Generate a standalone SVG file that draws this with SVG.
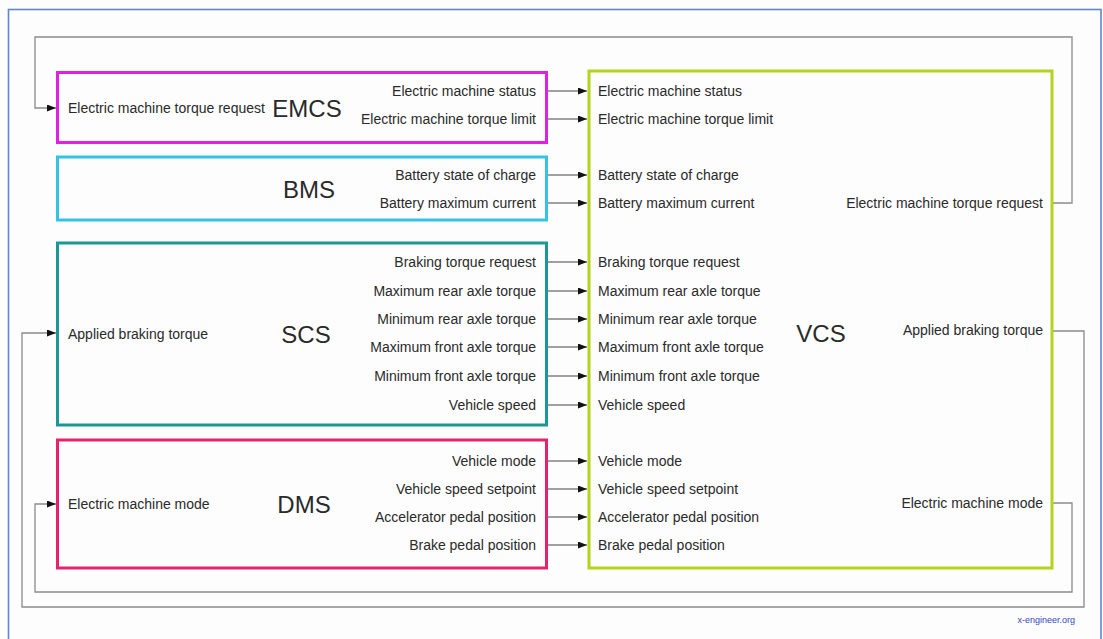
<svg xmlns="http://www.w3.org/2000/svg" width="1103" height="639" viewBox="0 0 1103 639">
<style>
text{font-family:"Liberation Sans",Arial,sans-serif;fill:#2a2a2a}
.s{font-size:14px}
.b{font-size:24px;text-anchor:middle}
.e{text-anchor:end}
.box{fill:none;stroke-width:3}
.sig{fill:none;stroke:#444;stroke-width:1.2}
.fb{fill:none;stroke:#8a8a8a;stroke-width:1.3}
</style>
<defs>
<marker id="ah" markerUnits="userSpaceOnUse" markerWidth="10" markerHeight="8" refX="9" refY="3.5" orient="auto">
<path d="M0,0 L9,3.5 L0,7 z" fill="#111"/>
</marker>
</defs>
<rect width="1103" height="639" fill="#fdfdfd"/>
<rect x="8.5" y="9.5" width="1092.5" height="645" fill="none" stroke="#5e88d2" stroke-width="1.6"/>

<g id="connectors">
<path class="sig" marker-end="url(#ah)" d="M548,91 H587"/>
<path class="sig" marker-end="url(#ah)" d="M548,119 H587"/>
<path class="sig" marker-end="url(#ah)" d="M548,175 H587"/>
<path class="sig" marker-end="url(#ah)" d="M548,203 H587"/>
<path class="sig" marker-end="url(#ah)" d="M548,262 H587"/>
<path class="sig" marker-end="url(#ah)" d="M548,291 H587"/>
<path class="sig" marker-end="url(#ah)" d="M548,319 H587"/>
<path class="sig" marker-end="url(#ah)" d="M548,347 H587"/>
<path class="sig" marker-end="url(#ah)" d="M548,376 H587"/>
<path class="sig" marker-end="url(#ah)" d="M548,405 H587"/>
<path class="sig" marker-end="url(#ah)" d="M548,461 H587"/>
<path class="sig" marker-end="url(#ah)" d="M548,489 H587"/>
<path class="sig" marker-end="url(#ah)" d="M548,517 H587"/>
<path class="sig" marker-end="url(#ah)" d="M548,545 H587"/>
<path class="fb" marker-end="url(#ah)" d="M1052,203 H1072 V37 H35 V108 H56"/>
<path class="fb" marker-end="url(#ah)" d="M1052,331 H1084 V607 H22 V333 H56"/>
<path class="fb" marker-end="url(#ah)" d="M1052,503 H1072 V592 H35 V504 H56"/>
</g>

<g id="EMCS">
<rect class="box" x="57.5" y="72.5" width="489" height="70" stroke="#e022e0"/>
<text class="s" x="68" y="113">Electric machine torque request</text>
<text class="b" x="307" y="117">EMCS</text>
<text class="s e" x="536" y="96">Electric machine status</text>
<text class="s e" x="536" y="124">Electric machine torque limit</text>
</g>

<g id="BMS">
<rect class="box" x="57.5" y="157" width="489" height="63" stroke="#34c2e6"/>
<text class="b" x="309" y="198">BMS</text>
<text class="s e" x="536" y="180">Battery state of charge</text>
<text class="s e" x="536" y="208">Battery maximum current</text>
</g>

<g id="SCS">
<rect class="box" x="57.5" y="243" width="489" height="182" stroke="#1b9896"/>
<text class="s" x="68" y="339">Applied braking torque</text>
<text class="b" x="306" y="343">SCS</text>
<text class="s e" x="536" y="267">Braking torque request</text>
<text class="s e" x="536" y="296">Maximum rear axle torque</text>
<text class="s e" x="536" y="324">Minimum rear axle torque</text>
<text class="s e" x="536" y="352">Maximum front axle torque</text>
<text class="s e" x="536" y="381">Minimum front axle torque</text>
<text class="s e" x="536" y="410">Vehicle speed</text>
</g>

<g id="DMS">
<rect class="box" x="57.5" y="440" width="489" height="128" stroke="#e8216b"/>
<text class="s" x="68" y="509">Electric machine mode</text>
<text class="b" x="304" y="513">DMS</text>
<text class="s e" x="536" y="466">Vehicle mode</text>
<text class="s e" x="536" y="494">Vehicle speed setpoint</text>
<text class="s e" x="536" y="522">Accelerator pedal position</text>
<text class="s e" x="536" y="550">Brake pedal position</text>
</g>

<g id="VCS">
<rect class="box" x="589" y="71" width="463" height="497" stroke="#b3d31d"/>
<text class="b" x="821" y="342">VCS</text>
<text class="s" x="598" y="96">Electric machine status</text>
<text class="s" x="598" y="124">Electric machine torque limit</text>
<text class="s" x="598" y="180">Battery state of charge</text>
<text class="s" x="598" y="208">Battery maximum current</text>
<text class="s" x="598" y="267">Braking torque request</text>
<text class="s" x="598" y="296">Maximum rear axle torque</text>
<text class="s" x="598" y="324">Minimum rear axle torque</text>
<text class="s" x="598" y="352">Maximum front axle torque</text>
<text class="s" x="598" y="381">Minimum front axle torque</text>
<text class="s" x="598" y="410">Vehicle speed</text>
<text class="s" x="598" y="466">Vehicle mode</text>
<text class="s" x="598" y="494">Vehicle speed setpoint</text>
<text class="s" x="598" y="522">Accelerator pedal position</text>
<text class="s" x="598" y="550">Brake pedal position</text>
<text class="s e" x="1043" y="208">Electric machine torque request</text>
<text class="s e" x="1043" y="335">Applied braking torque</text>
<text class="s e" x="1043" y="508">Electric machine mode</text>
</g>

<text x="1075" y="623" font-size="9" style="fill:#3848b8;text-anchor:end">x-engineer.org</text>
</svg>
